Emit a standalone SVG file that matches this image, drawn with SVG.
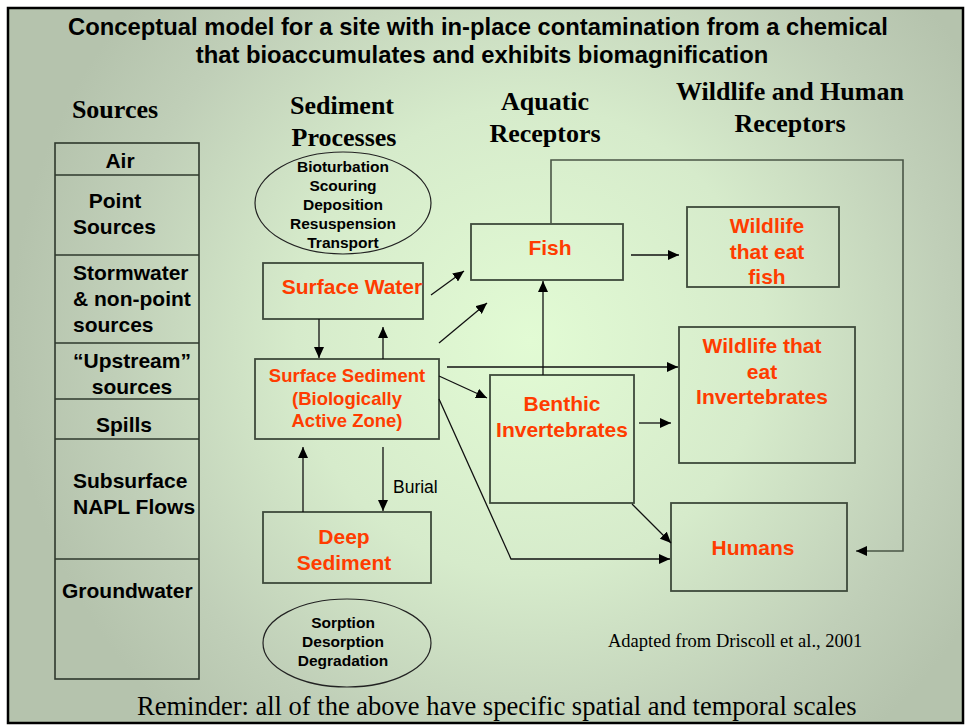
<svg xmlns="http://www.w3.org/2000/svg" width="967" height="725" viewBox="0 0 967 725">
<defs>
<radialGradient id="bg" gradientUnits="userSpaceOnUse" cx="530" cy="340" r="520">
<stop offset="0" stop-color="#e2fbd4"/>
<stop offset="0.45" stop-color="#d6ebcb"/>
<stop offset="0.8" stop-color="#c0cfb8"/>
<stop offset="1" stop-color="#b5c3ad"/>
</radialGradient>
<marker id="ah" markerUnits="userSpaceOnUse" markerWidth="12" markerHeight="10" refX="11" refY="5" orient="auto">
<path d="M0,0 L11,5 L0,10 z" fill="#000"/>
</marker>
</defs>
<style>
.box{fill:none;stroke:#3e4a3b;stroke-width:1.8}
.col{fill:none;stroke:#2e382c;stroke-width:1.6}
.ell{fill:none;stroke:#222;stroke-width:1.2}
.con{fill:none;stroke:#111;stroke-width:1.3}
.loop{fill:none;stroke:#4a5646;stroke-width:1.6}
.arr{marker-end:url(#ah)}
.t{font-family:"Liberation Sans",Arial,sans-serif;font-weight:bold;font-size:23.8px;fill:#000;text-anchor:middle}
.h{font-family:"Liberation Serif","Times New Roman",serif;font-weight:bold;font-size:26px;fill:#000;text-anchor:middle}
.src{font-family:"Liberation Sans",Arial,sans-serif;font-weight:bold;font-size:21px;fill:#000}
.o{font-family:"Liberation Sans",Arial,sans-serif;font-weight:bold;font-size:21px;fill:#ff3c00;text-anchor:middle}
.os{font-size:18.5px}
.e{font-family:"Liberation Sans",Arial,sans-serif;font-weight:bold;font-size:15.5px;fill:#000;text-anchor:middle}
</style>
<rect x="0" y="0" width="967" height="725" fill="#ffffff"/>
<rect x="8" y="8" width="955" height="715" fill="url(#bg)" stroke="#000" stroke-width="2.5"/>

<g id="title">
<text class="t" x="478" y="35">Conceptual model for a site with in-place contamination from a chemical</text>
<text class="t" x="482" y="63">that bioaccumulates and exhibits biomagnification</text>
</g>

<g id="headers">
<text class="h" x="115" y="118">Sources</text>
<text class="h" x="342" y="114">Sediment</text>
<text class="h" x="344" y="146">Processes</text>
<text class="h" x="545" y="110">Aquatic</text>
<text class="h" x="545" y="142">Receptors</text>
<text class="h" x="790" y="100">Wildlife and Human</text>
<text class="h" x="790" y="132">Receptors</text>
</g>

<g id="sources">
<rect class="col" x="55" y="143" width="144" height="536"/>
<line class="col" x1="55" y1="175" x2="199" y2="175"/>
<line class="col" x1="55" y1="255" x2="199" y2="255"/>
<line class="col" x1="55" y1="343" x2="199" y2="343"/>
<line class="col" x1="55" y1="399" x2="199" y2="399"/>
<line class="col" x1="55" y1="439" x2="199" y2="439"/>
<line class="col" x1="55" y1="559" x2="199" y2="559"/>
<text class="src" x="120" y="168" text-anchor="middle">Air</text>
<text class="src" x="115" y="208" text-anchor="middle">Point</text>
<text class="src" x="73" y="234">Sources</text>
<text class="src" x="73" y="280">Stormwater</text>
<text class="src" x="73" y="306">&amp; non-point</text>
<text class="src" x="73" y="332">sources</text>
<text class="src" x="132" y="368" text-anchor="middle">“Upstream”</text>
<text class="src" x="132" y="394" text-anchor="middle">sources</text>
<text class="src" x="124" y="432" text-anchor="middle">Spills</text>
<text class="src" x="73" y="488">Subsurface</text>
<text class="src" x="73" y="514">NAPL Flows</text>
<text class="src" x="62" y="598">Groundwater</text>
</g>

<g id="sediment-processes">
<ellipse class="ell" cx="343" cy="203" rx="88" ry="51"/>
<text class="e" x="343" y="172">Bioturbation</text>
<text class="e" x="343" y="191">Scouring</text>
<text class="e" x="343" y="210">Deposition</text>
<text class="e" x="343" y="229">Resuspension</text>
<text class="e" x="343" y="248">Transport</text>
</g>

<g id="surface-water">
<rect class="box" x="263" y="263" width="160" height="56"/>
<text class="o" x="352" y="294">Surface Water</text>
</g>

<g id="surface-sediment">
<rect class="box" x="255" y="359" width="184" height="80"/>
<text class="o os" x="347" y="382">Surface Sediment</text>
<text class="o os" x="347" y="405">(Biologically</text>
<text class="o os" x="347" y="427">Active Zone)</text>
</g>

<g id="deep-sediment">
<rect class="box" x="263" y="512" width="168" height="71"/>
<text class="o" x="344" y="544">Deep</text>
<text class="o" x="344" y="570">Sediment</text>
</g>

<g id="transformation-processes">
<ellipse class="ell" cx="347" cy="643" rx="84" ry="44"/>
<text class="e" x="343" y="628">Sorption</text>
<text class="e" x="343" y="647">Desorption</text>
<text class="e" x="343" y="666">Degradation</text>
</g>

<g id="fish">
<rect class="box" x="471" y="224" width="152" height="56"/>
<text class="o" x="550" y="255">Fish</text>
</g>

<g id="benthic-invertebrates">
<rect class="box" x="490" y="375" width="144" height="128"/>
<text class="o" x="562" y="411">Benthic</text>
<text class="o" x="562" y="437">Invertebrates</text>
</g>

<g id="wildlife-fish">
<rect class="box" x="687" y="207" width="152" height="80"/>
<text class="o" x="767" y="233">Wildlife</text>
<text class="o" x="767" y="259">that eat</text>
<text class="o" x="767" y="284">fish</text>
</g>

<g id="wildlife-invertebrates">
<rect class="box" x="679" y="327" width="176" height="136"/>
<text class="o" x="762" y="353">Wildlife that</text>
<text class="o" x="762" y="379">eat</text>
<text class="o" x="762" y="404">Invertebrates</text>
</g>

<g id="humans">
<rect class="box" x="671" y="503" width="176" height="88"/>
<text class="o" x="753" y="555">Humans</text>
</g>

<g id="connectors">
<line class="con arr" x1="319" y1="319" x2="319" y2="358"/>
<line class="con arr" x1="383" y1="359" x2="383" y2="327"/>
<line class="con arr" x1="303" y1="512" x2="303" y2="447"/>
<line class="con arr" x1="383" y1="447" x2="383" y2="511"/>
<text x="393" y="493" font-family="Liberation Sans, Arial, sans-serif" font-size="17.5" fill="#000">Burial</text>
<line class="con arr" x1="431" y1="295" x2="464" y2="271"/>
<line class="con arr" x1="439" y1="343" x2="487" y2="303"/>
<line class="con arr" x1="447" y1="367" x2="678" y2="367"/>
<line class="con arr" x1="439" y1="376" x2="487" y2="398"/>
<polyline class="con arr" points="439,399 511,559 670,559"/>
<line class="con arr" x1="543" y1="375" x2="543" y2="281"/>
<line class="con arr" x1="631" y1="255" x2="679" y2="255"/>
<line class="con arr" x1="639" y1="423" x2="671" y2="423"/>
<line class="con arr" x1="632" y1="504" x2="671" y2="543"/>
<polyline class="loop arr" points="551,224 551,160 903,160 903,551 856,551"/>
</g>

<g id="notes">
<text x="608" y="647" font-family="Liberation Serif, Times New Roman, serif" font-size="18.5" fill="#000">Adapted from Driscoll et al., 2001</text>
<text x="137" y="715" font-family="Liberation Serif, Times New Roman, serif" font-size="26.5" fill="#000">Reminder: all of the above have specific spatial and temporal scales</text>
</g>
</svg>
